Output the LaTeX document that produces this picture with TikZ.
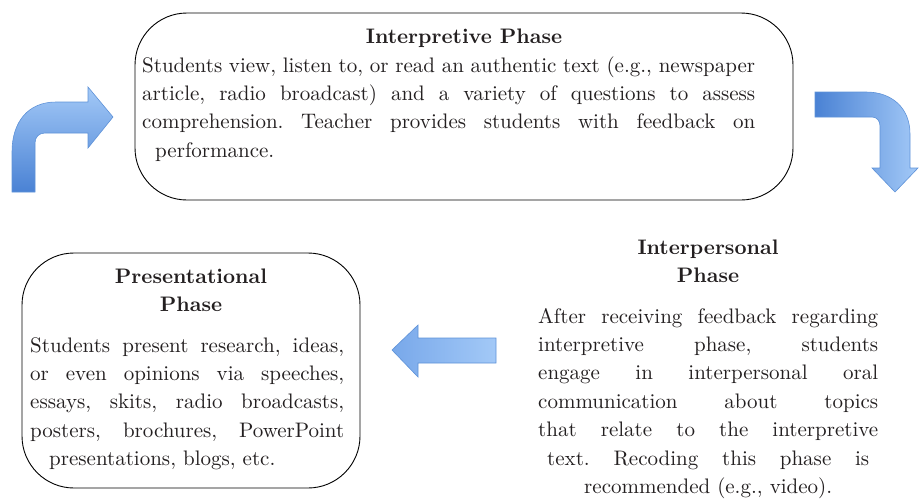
\documentclass[tikz,border=0pt]{standalone}
\usepackage{fontspec}
\setmainfont{lmroman10-regular.otf}[BoldFont=lmroman10-bold.otf]
\setlength{\parindent}{0pt}
\tolerance=10000
\hbadness=10000
\frenchspacing
\definecolor{arrowlight}{HTML}{A3C9F7}
\definecolor{arrowmid}{HTML}{78A8EA}
\definecolor{arrowdark}{HTML}{4A82D4}
\definecolor{arrowline}{HTML}{5E92D8}
\definecolor{inktext}{HTML}{231F20}
\tikzset{
  phasebox/.style={draw, line width=0.9pt, rounded corners=52pt, inner sep=0pt},
  phasetitle/.style={font=\fontsize{21}{28.4}\selectfont\bfseries, text=inktext, inner sep=0pt, anchor=north, align=center},
  phasetext/.style={font=\fontsize{21}{28.4}\selectfont, text=inktext, inner sep=0pt, anchor=north west, align=justify},
  blockarrow/.style={draw=arrowline, line width=0.6pt}
}
\begin{document}
\begin{tikzpicture}[x=1pt,y=-1pt]
	\useasboundingbox (0,0) rectangle (919,499);
	\def\uparrowpath{(12,192) -- (12,152) .. controls (12,122) and (28,102) .. (56,102) -- (88,102) -- (88,87) -- (113,117) -- (88,148) -- (88,133) -- (45,133) .. controls (39,133) and (35,137) .. (35,143) -- (35,192) -- cycle}
	\def\downarrowpath{(815,92) -- (866,92) .. controls (892,92) and (910,108) .. (910,134) -- (910,168) -- (918,168) -- (895,192) -- (872,168) -- (880,168) -- (880,126) .. controls (880,121) and (877,117) .. (872,117) -- (815,117) -- cycle}
	\def\leftarrowpath{(496,338) -- (418,338) -- (418,325) -- (392,350) -- (418,377) -- (418,363) -- (496,363) -- cycle}
	\path[blockarrow, top color=arrowlight, bottom color=arrowdark] \uparrowpath;
	\path[blockarrow, left color=arrowdark, right color=arrowlight] \downarrowpath;
	\path[blockarrow, left color=arrowmid, right color=arrowlight] \leftarrowpath;
	% interpretive phase
	\node[phasebox, minimum width=658pt, minimum height=187pt] (interpbox) at (464,106.5) {};
	\node[phasetitle] (interptitle) at (464,23.1) {\strut Interpretive Phase};
	\node[phasetext, text width=613pt] (interptext) at (142,52.1) {\strut Students view, listen to, or read an authentic text (e.g., newspaper\linebreak article, radio broadcast) and a variety of questions to assess\linebreak comprehension. Teacher provides students with feedback on\linebreak \hspace*{13pt}performance.};
	% presentational phase
	\node[phasebox, minimum width=338pt, minimum height=235pt] (presbox) at (191,370.5) {};
	\node[phasetitle] (prestitle) at (191,263.1) {\strut Presentational\\Phase};
	\node[phasetext, text width=314pt] (prestext) at (30,332.1) {\strut Students present research, ideas,\linebreak or even opinions via speeches,\linebreak essays, skits, radio broadcasts,\linebreak posters, brochures, PowerPoint\linebreak \hspace*{19pt}presentations, blogs, etc.};
	% interpersonal phase
	\node[phasetitle] (perstitle) at (708,234.1) {\strut Interpersonal\\Phase};
	\node[phasetext, text width=340pt] (perstext) at (538,303.1) {\parfillskip=0pt\strut After receiving feedback regarding\linebreak interpretive phase, students\linebreak engage in interpersonal oral\linebreak communication about topics\linebreak that relate to the interpretive\par\makebox[340pt][c]{\makebox[322pt][s]{text. Recoding this phase is}}\par\makebox[340pt][c]{recommended (e.g., video).}};
\end{tikzpicture}
\end{document}
